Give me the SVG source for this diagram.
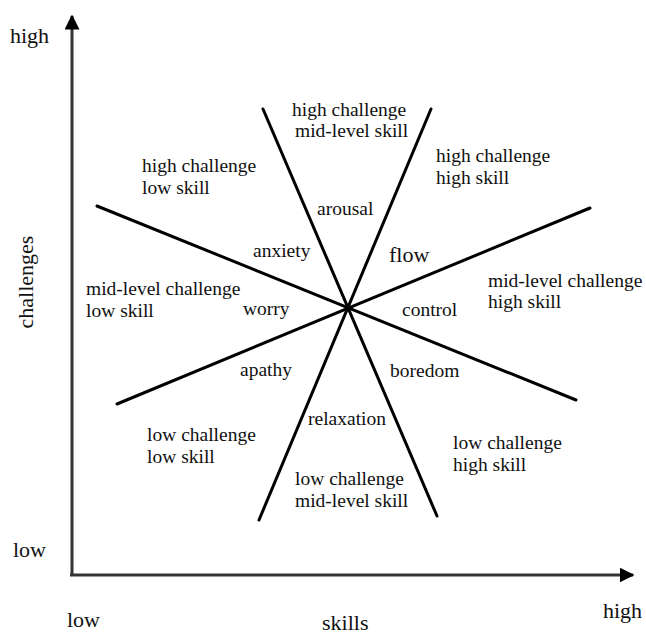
<svg xmlns="http://www.w3.org/2000/svg" width="646" height="637" viewBox="0 0 646 637">
<style>
text{font-family:"Liberation Serif","Times New Roman",serif;fill:#111}
.lb{font-size:19.5px}
.ax{font-size:22px}
.ray{stroke:#000;stroke-width:3;stroke-linecap:round;fill:none}
.axis{stroke:#333;stroke-width:3;fill:none}
</style>
<defs>
<marker id="ah" viewBox="0 0 10 10" refX="9" refY="5" markerWidth="15" markerHeight="15" markerUnits="userSpaceOnUse" orient="auto">
<path d="M0,0 L10,5 L0,10 Z" fill="#000"/>
</marker>
</defs>
<rect width="646" height="637" fill="#fff"/>
<g id="axes">
<line class="axis" x1="72" y1="576" x2="72" y2="16" marker-end="url(#ah)"/>
<line class="axis" x1="70" y1="575" x2="633" y2="575" marker-end="url(#ah)"/>
</g>
<g id="connectors">
<line class="ray" x1="263" y1="109" x2="437" y2="516"/>
<line class="ray" x1="431" y1="109" x2="259" y2="520"/>
<line class="ray" x1="97" y1="206" x2="576" y2="400"/>
<line class="ray" x1="117" y1="404" x2="590" y2="208"/>
</g>
<g id="axis-labels">
<text class="ax" x="10" y="43">high</text>
<text class="ax" x="13" y="557">low</text>
<text class="ax" x="67" y="627">low</text>
<text class="ax" x="603" y="618">high</text>
<text class="ax" x="322" y="630">skills</text>
<text class="ax" transform="translate(33,282) rotate(-90)" text-anchor="middle">challenges</text>
</g>
<g id="region-hc-ms"><text class="lb" x="292" y="116">high challenge</text><text class="lb" x="295" y="137">mid-level skill</text></g>
<g id="region-hc-hs"><text class="lb" x="436" y="162">high challenge</text><text class="lb" x="436" y="184">high skill</text></g>
<g id="region-hc-ls"><text class="lb" x="142" y="172">high challenge</text><text class="lb" x="142" y="194">low skill</text></g>
<g id="region-mc-hs"><text class="lb" x="488" y="287">mid-level challenge</text><text class="lb" x="488" y="308">high skill</text></g>
<g id="region-mc-ls"><text class="lb" x="86" y="295">mid-level challenge</text><text class="lb" x="86" y="317">low skill</text></g>
<g id="region-lc-ls"><text class="lb" x="147" y="441">low challenge</text><text class="lb" x="147" y="463">low skill</text></g>
<g id="region-lc-hs"><text class="lb" x="453" y="449">low challenge</text><text class="lb" x="453" y="471">high skill</text></g>
<g id="region-lc-ms"><text class="lb" x="295" y="485">low challenge</text><text class="lb" x="295" y="507">mid-level skill</text></g>
<g id="state-arousal"><text class="lb" x="317" y="215">arousal</text></g>
<g id="state-anxiety"><text class="lb" x="253" y="257">anxiety</text></g>
<g id="state-flow"><text class="ax" x="389" y="262">flow</text></g>
<g id="state-worry"><text class="lb" x="243" y="315">worry</text></g>
<g id="state-control"><text class="lb" x="402" y="316">control</text></g>
<g id="state-apathy"><text class="lb" x="240" y="376">apathy</text></g>
<g id="state-boredom"><text class="lb" x="390" y="377">boredom</text></g>
<g id="state-relaxation"><text class="lb" x="308" y="425">relaxation</text></g>
</svg>
